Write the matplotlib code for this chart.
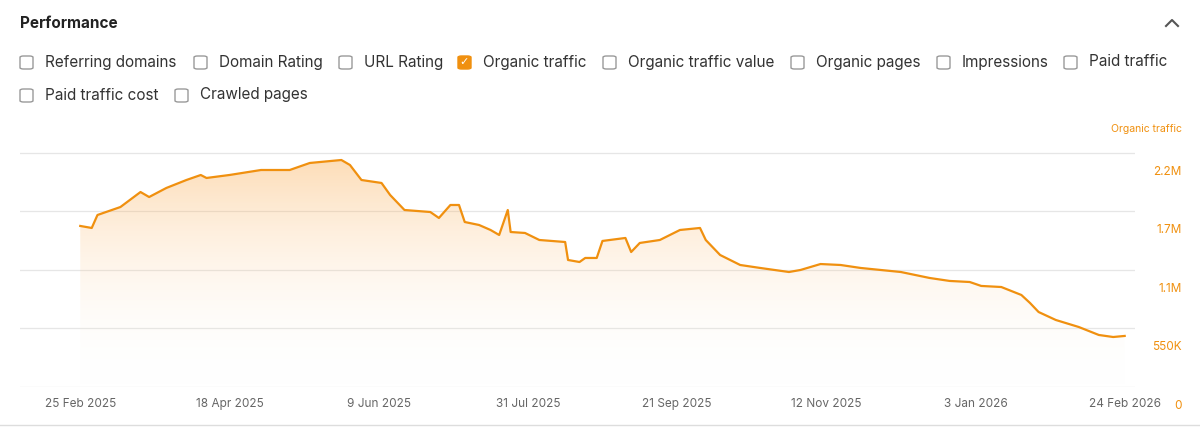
import matplotlib
matplotlib.use("Agg")
import matplotlib.pyplot as plt
import numpy as np
import pandas as pd
from matplotlib.patches import FancyBboxPatch, Polygon
from matplotlib.colors import LinearSegmentedColormap

plt.rcParams['font.family'] = ['Inter', 'DejaVu Sans']

# ---- data ----
dates = ["2025-02-25", "2025-03-01", "2025-03-03", "2025-03-11", "2025-03-18", "2025-03-21",
         "2025-03-27", "2025-04-03", "2025-04-08", "2025-04-10", "2025-04-18", "2025-04-29",
         "2025-05-09", "2025-05-16", "2025-05-27", "2025-05-30", "2025-06-03", "2025-06-10",
         "2025-06-13", "2025-06-18", "2025-06-27", "2025-06-30", "2025-07-04", "2025-07-07",
         "2025-07-09", "2025-07-14", "2025-07-18", "2025-07-21", "2025-07-24", "2025-07-25",
         "2025-07-30", "2025-08-04", "2025-08-13", "2025-08-14", "2025-08-18", "2025-08-20",
         "2025-08-24", "2025-08-26", "2025-09-03", "2025-09-05", "2025-09-08", "2025-09-15",
         "2025-09-22", "2025-09-29", "2025-10-01", "2025-10-06", "2025-10-13", "2025-10-20",
         "2025-10-30", "2025-11-03", "2025-11-10", "2025-11-17", "2025-11-24", "2025-12-08",
         "2025-12-18", "2025-12-25", "2026-01-01", "2026-01-05", "2026-01-12", "2026-01-19",
         "2026-01-22", "2026-01-25", "2026-01-31", "2026-02-08", "2026-02-15", "2026-02-20",
         "2026-02-24"]
traffic_m = [1.514, 1.495, 1.617, 1.692, 1.833, 1.786, 1.871, 1.946, 1.993, 1.965, 1.993, 2.040,
             2.040, 2.106, 2.134, 2.087, 1.946, 1.918, 1.805, 1.664, 1.645, 1.589, 1.711, 1.711,
             1.551, 1.523, 1.476, 1.429, 1.664, 1.457, 1.448, 1.382, 1.363, 1.194, 1.175, 1.213,
             1.213, 1.373, 1.401, 1.269, 1.354, 1.382, 1.476, 1.495, 1.382, 1.241, 1.147, 1.119,
             1.081, 1.100, 1.156, 1.147, 1.119, 1.081, 1.025, 0.997, 0.987, 0.950, 0.940, 0.865,
             0.790, 0.705, 0.630, 0.564, 0.489, 0.470, 0.480]
y_ticks = [0, 550000, 1100000, 1650000, 2200000]
y_labels = ["0", "550K", "1.1M", "1.7M", "2.2M"]
x_ticks = ["2025-02-25", "2025-04-18", "2025-06-09", "2025-07-31", "2025-09-21",
           "2025-11-12", "2026-01-03", "2026-02-24"]
x_labels = ["25 Feb 2025", "18 Apr 2025", "9 Jun 2025", "31 Jul 2025", "21 Sep 2025",
            "12 Nov 2025", "3 Jan 2026", "24 Feb 2026"]
boxes_row1 = ["Referring domains", "Domain Rating", "URL Rating", "Organic traffic",
              "Organic traffic value", "Organic pages", "Impressions", "Paid traffic"]
boxes_row2 = ["Paid traffic cost", "Crawled pages"]
checked = "Organic traffic"

orange = "#f0900f"

x = pd.to_datetime(dates)
y = [v * 1e6 for v in traffic_m]

fig = plt.figure(figsize=(12, 4.32), dpi=100)

# header
fig.text(20/1200, 1 - 23/432, "Performance", fontsize=11, fontweight="bold", color="#222222", va="center")
fig.add_artist(plt.Line2D([1166/1200, 1172/1200, 1178/1200], [1 - 26/432, 1 - 20/432, 1 - 26/432],
                          transform=fig.transFigure, color="#555555", lw=1.5))

# checkboxes
row1_x = [20, 194, 339, 458, 603, 791, 937, 1064]
row2_x = [20, 175]
for labels, xs, ypix in [(boxes_row1, row1_x, 62), (boxes_row2, row2_x, 95)]:
    for lab, xp in zip(labels, xs):
        is_on = lab == checked
        fig.patches.append(FancyBboxPatch(((xp) / 1200, 1 - (ypix + 7) / 432), 13/1200, 13/432,
                                          boxstyle="round,pad=0,rounding_size=0.003",
                                          transform=fig.transFigure,
                                          facecolor=orange if is_on else "white",
                                          edgecolor=orange if is_on else "#9a9a9a", lw=1))
        if is_on:
            fig.text((xp + 6.5) / 1200, 1 - ypix / 432, "✓", color="white", fontsize=8,
                     ha="center", va="center", fontweight="bold", family=["DejaVu Sans"])
        fig.text((xp + 25) / 1200, 1 - ypix / 432, lab, fontsize=11, color="#333333", va="center")

ax = fig.add_axes([20/1200, 1 - 387/432, 1115/1200, 257/432])
for t in y_ticks:
    ax.axhline(t, color="#e6e6e6", lw=0.9, zorder=0)
ax.plot(x, y, color=orange, lw=1.6, zorder=3)

# gradient fill under the line
xn = mdates_x = matplotlib.dates.date2num(x)
cmap = LinearSegmentedColormap.from_list("g", [(1, 1, 1, 0), (0.98, 0.62, 0.2, 0.35)])
grad = np.linspace(0, 1, 256).reshape(-1, 1)
im = ax.imshow(grad, cmap=cmap, aspect="auto", origin="lower",
               extent=[xn[0], xn[-1], 0, max(y)], zorder=1, vmin=0, vmax=1)
poly = Polygon(np.column_stack([np.r_[xn, xn[-1], xn[0]], np.r_[y, 0, 0]]),
               transform=ax.transData, facecolor="none", edgecolor="none")
ax.add_patch(poly)
im.set_clip_path(poly)

ax.set_ylim(0, 2.416e6)
ax.set_xlim(pd.Timestamp("2025-02-25") - pd.Timedelta(days=21),
            pd.Timestamp("2025-02-25") + pd.Timedelta(days=367.6))
for sp in ax.spines.values():
    sp.set_visible(False)
ax.set_yticks([])
ax.set_xticks(pd.to_datetime(x_ticks))
ax.set_xticklabels(x_labels, fontsize=8.5, color="#666666")
ax.tick_params(axis="x", length=0, pad=8)

for t, lab in zip(y_ticks, y_labels):
    ax.text(1.042, t - 0.175e6, lab, transform=ax.get_yaxis_transform(),
            fontsize=8.5, color=orange, ha="right", va="center", clip_on=False)
ax.text(1.042, 2.43e6, "Organic traffic", transform=ax.get_yaxis_transform(),
        fontsize=7.5, color=orange, ha="right", va="center")

fig.add_artist(plt.Line2D([0, 1], [1 - 425/432, 1 - 425/432], transform=fig.transFigure,
                          color="#dddddd", lw=1))

fig.savefig("out.png", dpi=100)
